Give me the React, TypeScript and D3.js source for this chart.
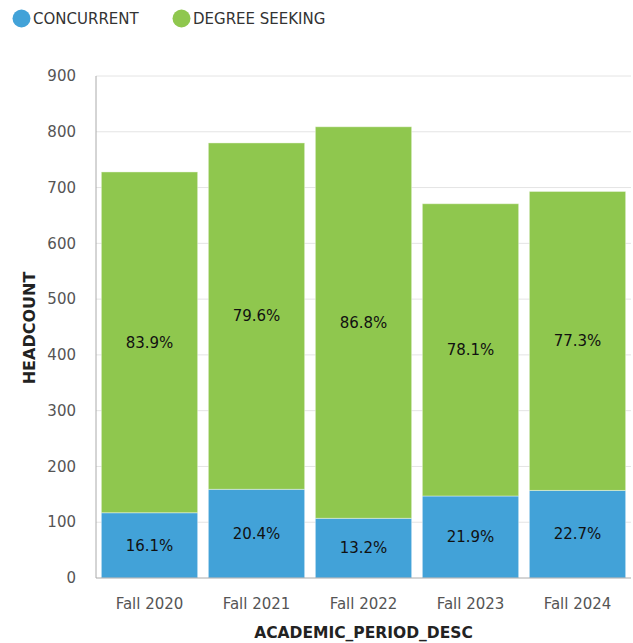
import React, { useRef, useEffect } from "react";
import * as d3 from "d3";

const periods = ["Fall 2020", "Fall 2021", "Fall 2022", "Fall 2023", "Fall 2024"];
const concurrent = [117, 159, 107, 147, 157];
const degreeSeeking = [611, 621, 702, 524, 536];
const yTicks = [0, 100, 200, 300, 400, 500, 600, 700, 800, 900];

const BLUE = "#42a2d8";
const GREEN = "#8fc74e";
const FONT = "DejaVu Sans, sans-serif";

export default function App() {
	const ref = useRef<SVGSVGElement>(null);

	useEffect(() => {
		const svg = d3.select(ref.current);
		svg.selectAll("*").remove();

		const left = 96,
			right = 631,
			top = 76,
			bottom = 578;

		const x = d3.scaleBand().domain(periods).range([left, right]).paddingInner(0.1).paddingOuter(0.05);
		const y = d3.scaleLinear().domain([0, 900]).range([bottom, top]);

		// gridlines
		svg
			.append("g")
			.selectAll("line")
			.data(yTicks.filter((t) => t > 0))
			.enter()
			.append("line")
			.attr("x1", left)
			.attr("x2", right)
			.attr("y1", (d) => y(d))
			.attr("y2", (d) => y(d))
			.attr("stroke", "#e4e4e4")
			.attr("stroke-width", 1);

		// y tick labels
		svg
			.append("g")
			.selectAll("text")
			.data(yTicks)
			.enter()
			.append("text")
			.attr("x", 76)
			.attr("y", (d) => y(d))
			.attr("dy", "0.35em")
			.attr("text-anchor", "end")
			.attr("font-family", FONT)
			.attr("font-size", 15)
			.attr("fill", "#555")
			.text((d) => d);

		const rows = periods.map((p, i) => ({
			p,
			c: concurrent[i],
			d: degreeSeeking[i],
			total: concurrent[i] + degreeSeeking[i],
		}));

		const g = svg.append("g");
		// concurrent
		g.selectAll("rect.c")
			.data(rows)
			.enter()
			.append("rect")
			.attr("x", (r) => x(r.p)!)
			.attr("width", x.bandwidth())
			.attr("y", (r) => y(r.c))
			.attr("height", (r) => y(0) - y(r.c))
			.attr("fill", BLUE)
			.attr("stroke", "#fff")
			.attr("stroke-opacity", 0.4)
			.attr("stroke-width", 1);
		// degree seeking
		g.selectAll("rect.d")
			.data(rows)
			.enter()
			.append("rect")
			.attr("x", (r) => x(r.p)!)
			.attr("width", x.bandwidth())
			.attr("y", (r) => y(r.total))
			.attr("height", (r) => y(r.c) - y(r.total))
			.attr("fill", GREEN)
			.attr("stroke", "#fff")
			.attr("stroke-opacity", 0.4)
			.attr("stroke-width", 1);

		// percentage labels
		const lab = svg.append("g").attr("font-family", FONT).attr("font-size", 15).attr("fill", "#111").attr("text-anchor", "middle");
		rows.forEach((r) => {
			const cx = x(r.p)! + x.bandwidth() / 2;
			lab.append("text")
				.attr("x", cx)
				.attr("y", (y(0) + y(r.c)) / 2)
				.attr("dy", "0.35em")
				.text(((r.c / r.total) * 100).toFixed(1) + "%");
			lab.append("text")
				.attr("x", cx)
				.attr("y", (y(r.c) + y(r.total)) / 2)
				.attr("dy", "0.35em")
				.text(((r.d / r.total) * 100).toFixed(1) + "%");
		});

		// axes lines
		svg.append("line").attr("x1", left).attr("x2", left).attr("y1", top).attr("y2", bottom).attr("stroke", "#aaa");
		svg.append("line").attr("x1", left).attr("x2", right).attr("y1", bottom).attr("y2", bottom).attr("stroke", "#aaa");

		// x tick labels
		svg
			.append("g")
			.selectAll("text")
			.data(periods)
			.enter()
			.append("text")
			.attr("x", (d) => x(d)! + x.bandwidth() / 2)
			.attr("y", 604)
			.attr("dy", "0.35em")
			.attr("text-anchor", "middle")
			.attr("font-family", FONT)
			.attr("font-size", 15)
			.attr("fill", "#555")
			.text((d) => d);

		// axis titles
		svg.append("text")
			.attr("x", (left + right) / 2)
			.attr("y", 633)
			.attr("dy", "0.35em")
			.attr("text-anchor", "middle")
			.attr("font-family", FONT)
			.attr("font-size", 15.5)
			.attr("font-weight", "bold")
			.attr("fill", "#222")
			.text("ACADEMIC_PERIOD_DESC");
		svg.append("text")
			.attr("transform", "translate(29,328) rotate(-90)")
			.attr("dy", "0.35em")
			.attr("text-anchor", "middle")
			.attr("font-family", FONT)
			.attr("font-size", 16)
			.attr("font-weight", "bold")
			.attr("fill", "#222")
			.text("HEADCOUNT");

		// legend
		const legend = [
			{ name: "CONCURRENT", color: BLUE, x: 21.5 },
			{ name: "DEGREE SEEKING", color: GREEN, x: 181.5 },
		];
		const lg = svg.append("g");
		legend.forEach((l) => {
			lg.append("circle").attr("cx", l.x).attr("cy", 18.5).attr("r", 9).attr("fill", l.color);
			lg.append("text")
				.attr("x", l.x + 11.5)
				.attr("y", 18.5)
				.attr("dy", "0.35em")
				.attr("font-family", FONT)
				.attr("font-size", 15)
				.attr("fill", "#333")
				.text(l.name);
		});
	}, []);

	return (
		<div style={{ position: "absolute", left: 0, top: 0 }}>
			<svg ref={ref} width={633} height={643}></svg>
		</div>
	);
}
